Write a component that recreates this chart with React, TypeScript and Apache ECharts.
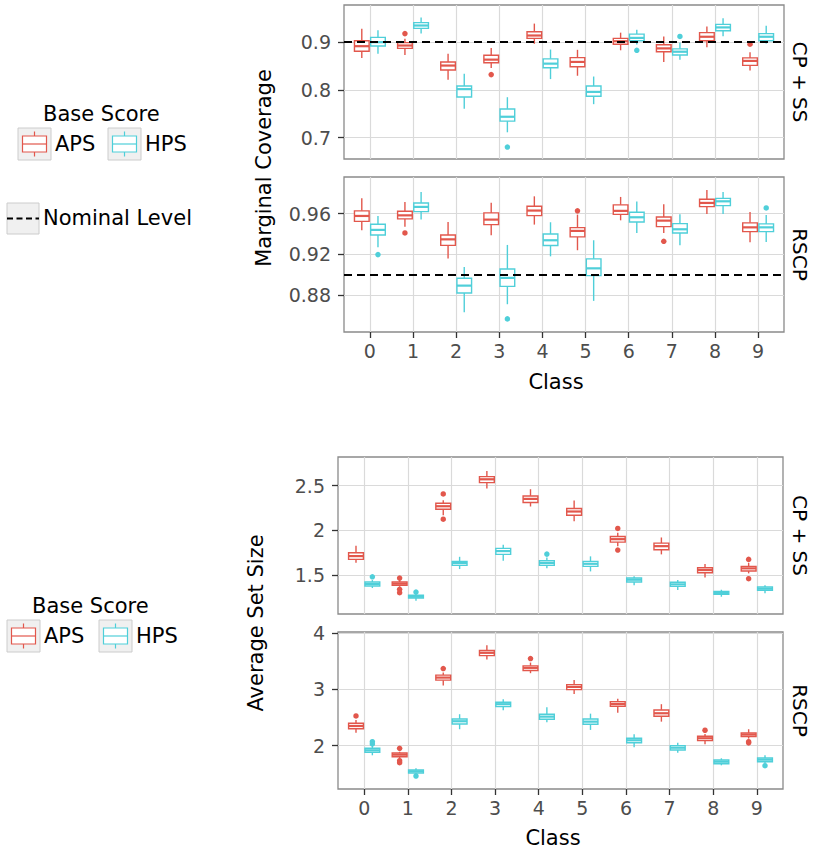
import React, { useEffect, useRef } from 'react';
import * as echarts from 'echarts';

// ---------- data ----------
const classes = [0, 1, 2, 3, 4, 5, 6, 7, 8, 9];
const scoreNames = ['APS', 'HPS'];
const facetNames = ['CP + SS', 'RSCP'];

// per class: [lower whisker, q1, median, q3, upper whisker]
const covCpAps = [
  [0.867, 0.881, 0.8916, 0.903, 0.928], [0.873, 0.887, 0.893, 0.899, 0.907],
  [0.821, 0.8416, 0.851, 0.8586, 0.876], [0.846, 0.857, 0.8634, 0.8725, 0.888],
  [0.8966, 0.908, 0.914, 0.922, 0.939], [0.8296, 0.8486, 0.8586, 0.8677, 0.884],
  [0.883, 0.8958, 0.902, 0.908, 0.92], [0.8586, 0.88, 0.887, 0.8945, 0.912],
  [0.8894, 0.903, 0.9114, 0.92, 0.933], [0.8408, 0.8514, 0.8607, 0.867, 0.879],
];
const covCpApsOut = [[1, 0.918], [3, 0.832], [9, 0.8958]];
const covCpHps = [
  [0.876, 0.892, 0.9, 0.91, 0.925], [0.918, 0.929, 0.935, 0.941, 0.952],
  [0.7605, 0.785, 0.8015, 0.808, 0.834], [0.711, 0.7345, 0.7436, 0.76, 0.7846],
  [0.8226, 0.8465, 0.855, 0.865, 0.8846], [0.77, 0.7867, 0.7958, 0.808, 0.828],
  [0.895, 0.903, 0.909, 0.917, 0.926], [0.8634, 0.873, 0.88, 0.886, 0.899],
  [0.9127, 0.924, 0.931, 0.9374, 0.95], [0.897, 0.903, 0.9114, 0.918, 0.9347],
];
const covCpHpsOut = [[3, 0.68], [6, 0.883], [7, 0.912]];

const covRsAps = [
  [0.9436, 0.9524, 0.9577, 0.9627, 0.975], [0.947, 0.9548, 0.9583, 0.9623, 0.9715],
  [0.9158, 0.9288, 0.9347, 0.939, 0.9518], [0.9387, 0.9492, 0.9541, 0.9607, 0.9708],
  [0.9492, 0.958, 0.963, 0.9672, 0.977], [0.924, 0.9371, 0.943, 0.9462, 0.959],
  [0.9534, 0.9593, 0.9627, 0.9686, 0.9764], [0.941, 0.9472, 0.9531, 0.9567, 0.9691],
  [0.9597, 0.9669, 0.9705, 0.9741, 0.9833], [0.9318, 0.9423, 0.9465, 0.9509, 0.9617],
];
const covRsApsOut = [[1, 0.941], [5, 0.9627], [7, 0.9328]];
const covRsHps = [
  [0.9269, 0.939, 0.944, 0.9495, 0.9577], [0.9541, 0.962, 0.9666, 0.9705, 0.9813],
  [0.863, 0.882, 0.8892, 0.8964, 0.9076], [0.8709, 0.8885, 0.8968, 0.9056, 0.9292],
  [0.918, 0.9286, 0.9338, 0.94, 0.9515], [0.8742, 0.899, 0.9062, 0.9155, 0.9338],
  [0.941, 0.9518, 0.9564, 0.9613, 0.9718], [0.9288, 0.941, 0.9446, 0.9502, 0.9593],
  [0.9597, 0.9679, 0.9721, 0.975, 0.9813], [0.9322, 0.9423, 0.9465, 0.9499, 0.9587],
];
const covRsHpsOut = [[0, 0.9197], [3, 0.8565], [9, 0.9656]];

const sizeCpAps = [
  [1.637, 1.675, 1.712, 1.749, 1.827], [1.37, 1.385, 1.403, 1.422, 1.444],
  [2.169, 2.236, 2.269, 2.303, 2.336], [2.466, 2.533, 2.57, 2.6, 2.663],
  [2.266, 2.31, 2.351, 2.384, 2.459], [2.102, 2.169, 2.21, 2.244, 2.333],
  [1.823, 1.868, 1.901, 1.931, 1.972], [1.731, 1.782, 1.823, 1.857, 1.92],
  [1.474, 1.526, 1.556, 1.581, 1.623], [1.519, 1.545, 1.575, 1.597, 1.637],
];
const sizeCpApsOut = [
  [1, 1.467], [1, 1.341], [1, 1.303], [2, 2.406], [2, 2.124],
  [6, 2.021], [6, 1.779], [9, 1.675], [9, 1.459],
];
const sizeCpHps = [
  [1.355, 1.377, 1.4, 1.422, 1.444], [1.214, 1.244, 1.258, 1.274, 1.288],
  [1.567, 1.608, 1.634, 1.653, 1.704], [1.66, 1.731, 1.768, 1.798, 1.838],
  [1.575, 1.608, 1.634, 1.66, 1.697], [1.541, 1.597, 1.626, 1.653, 1.709],
  [1.385, 1.422, 1.448, 1.467, 1.486], [1.333, 1.374, 1.396, 1.419, 1.444],
  [1.258, 1.285, 1.299, 1.318, 1.336], [1.296, 1.329, 1.347, 1.366, 1.385],
];
const sizeCpHpsOut = [[0, 1.481], [1, 1.31], [4, 1.734]];

const sizeRsAps = [
  [2.231, 2.302, 2.35, 2.399, 2.457], [1.769, 1.804, 1.84, 1.87, 1.893],
  [3.068, 3.164, 3.21, 3.253, 3.299], [3.53, 3.601, 3.65, 3.69, 3.786],
  [3.288, 3.335, 3.383, 3.418, 3.477], [2.92, 2.996, 3.044, 3.085, 3.169],
  [2.587, 2.701, 2.742, 2.783, 2.836], [2.427, 2.523, 2.576, 2.635, 2.737],
  [2.025, 2.089, 2.132, 2.167, 2.208], [2.125, 2.16, 2.196, 2.226, 2.292],
];
const sizeRsApsOut = [
  [0, 2.528], [1, 1.954], [1, 1.733], [1, 1.698], [2, 3.37],
  [4, 3.548], [8, 2.274], [9, 2.07], [9, 2.05],
];
const sizeRsHps = [
  [1.829, 1.883, 1.918, 1.954, 1.995], [1.49, 1.514, 1.544, 1.568, 1.598],
  [2.292, 2.386, 2.434, 2.475, 2.559], [2.63, 2.694, 2.737, 2.772, 2.826],
  [2.416, 2.47, 2.516, 2.559, 2.683], [2.28, 2.381, 2.427, 2.475, 2.569],
  [1.972, 2.053, 2.096, 2.132, 2.203], [1.875, 1.923, 1.964, 2.0, 2.053],
  [1.651, 1.68, 1.715, 1.746, 1.776], [1.687, 1.715, 1.751, 1.781, 1.829],
];
const sizeRsHpsOut = [[0, 2.071], [0, 2.03], [1, 1.461], [9, 1.644]];

const nominalLevel = 0.9;
const covTicksCp = [0.7, 0.8, 0.9];
const covTicksRs = [0.88, 0.92, 0.96];
const sizeTicksCp = [1.5, 2, 2.5];
const sizeTicksRs = [2, 3, 4];

// ---------- style / layout ----------
const RED = '#E2574C';
const CYAN = '#4FCFD9';
const FONT = 'DejaVu Sans';
const DODGE = 0.1875;
const BOX_W = 0.34;

const panels = [
  { aps: covCpAps, hps: covCpHps, apsOut: covCpApsOut, hpsOut: covCpHpsOut, ticks: covTicksCp, min: 0.655, max: 0.978, nominal: true, bottom: false, grid: { left: 344, top: 5, width: 440, height: 154 } },
  { aps: covRsAps, hps: covRsHps, apsOut: covRsApsOut, hpsOut: covRsHpsOut, ticks: covTicksRs, min: 0.8436, max: 0.996, nominal: true, bottom: true, grid: { left: 344, top: 177, width: 440, height: 155 } },
  { aps: sizeCpAps, hps: sizeCpHps, apsOut: sizeCpApsOut, hpsOut: sizeCpHpsOut, ticks: sizeTicksCp, min: 1.065, max: 2.819, nominal: false, bottom: false, grid: { left: 338, top: 457, width: 445, height: 157 } },
  { aps: sizeRsAps, hps: sizeRsHps, apsOut: sizeRsApsOut, hpsOut: sizeRsHpsOut, ticks: sizeTicksRs, min: 1.23, max: 4.02, nominal: false, bottom: true, grid: { left: 338, top: 632, width: 445, height: 157 } },
];

function makeRenderItem(offset: number, color: string) {
  return (params: any, api: any) => {
    const x = api.value(0) + offset;
    const lo = api.coord([x, api.value(1)]);
    const q1 = api.coord([x, api.value(2)]);
    const md = api.coord([x, api.value(3)]);
    const q3 = api.coord([x, api.value(4)]);
    const hi = api.coord([x, api.value(5)]);
    const hw = api.size([BOX_W, 0])[0] / 2;
    return {
      type: 'group',
      children: [
        { type: 'line', shape: { x1: lo[0], y1: lo[1], x2: q1[0], y2: q1[1] }, style: { stroke: color, lineWidth: 1.4 } },
        { type: 'line', shape: { x1: q3[0], y1: q3[1], x2: hi[0], y2: hi[1] }, style: { stroke: color, lineWidth: 1.4 } },
        { type: 'rect', shape: { x: q3[0] - hw, y: q3[1], width: hw * 2, height: q1[1] - q3[1] }, style: { fill: '#ffffff', stroke: color, lineWidth: 1.4 } },
        { type: 'line', shape: { x1: md[0] - hw, y1: md[1], x2: md[0] + hw, y2: md[1] }, style: { stroke: color, lineWidth: 2.2 } },
      ],
    };
  };
}

function legendGlyph(cx: number, top: number, color: string) {
  return [
    { type: 'rect', shape: { x: cx - 16.5, y: top, width: 33, height: 32 }, style: { fill: '#f0f0f0', stroke: '#cccccc', lineWidth: 1 } },
    { type: 'line', shape: { x1: cx, y1: top + 3.5, x2: cx, y2: top + 28.5 }, style: { stroke: color, lineWidth: 1.2 } },
    { type: 'rect', shape: { x: cx - 12, y: top + 8, width: 24, height: 16 }, style: { fill: '#ffffff', stroke: color, lineWidth: 1.2 } },
    { type: 'line', shape: { x1: cx - 12, y1: top + 16, x2: cx + 12, y2: top + 16 }, style: { stroke: color, lineWidth: 1.2 } },
  ];
}

function txt(text: string, x: number, y: number, size: number, align: string, rotation = 0, color = '#000') {
  return {
    type: 'text', x, y, rotation,
    style: { text, fill: color, font: `${size}px "${FONT}"`, fontFamily: FONT, fontSize: size, align, verticalAlign: 'middle', textAlign: align, textVerticalAlign: 'middle' },
  };
}

export default function App() {
  const ref = useRef<HTMLDivElement>(null);
  useEffect(() => {
    if (!ref.current) return;
    const chart = echarts.init(ref.current, undefined, { renderer: 'svg' });

    const grids: any[] = [];
    const xAxes: any[] = [];
    const yAxes: any[] = [];
    const series: any[] = [];

    panels.forEach((p, i) => {
      grids.push({ ...p.grid, show: true, borderColor: '#8a8a8a', borderWidth: 1.3, backgroundColor: '#ffffff', containLabel: false });
      xAxes.push({
        type: 'value', gridIndex: i, min: -0.6, max: 9.6, position: 'bottom',
        axisLine: { show: false, onZero: false },
        axisTick: { show: p.bottom, customValues: classes, length: 6, lineStyle: { color: '#333', width: 1.3 } },
        axisLabel: { show: p.bottom, customValues: classes, fontSize: 19, fontFamily: FONT, color: '#4d4d4d', margin: 9 },
        splitLine: { show: true, lineStyle: { color: '#dadada', width: 1.2 } },
      });
      yAxes.push({
        type: 'value', gridIndex: i, min: p.min, max: p.max, position: 'left',
        axisLine: { show: false, onZero: false },
        axisTick: { show: true, customValues: p.ticks, length: 6, lineStyle: { color: '#333', width: 1.3 } },
        axisLabel: { show: true, customValues: p.ticks, fontSize: 19, fontFamily: FONT, color: '#4d4d4d', margin: 13, formatter: (v: number) => String(+v.toFixed(3)) },
        splitLine: { show: true, lineStyle: { color: '#dadada', width: 1.2 } },
      });
      const groups = [
        { name: scoreNames[0], box: p.aps, out: p.apsOut, off: -DODGE, color: RED },
        { name: scoreNames[1], box: p.hps, out: p.hpsOut, off: DODGE, color: CYAN },
      ];
      groups.forEach((g, gi) => {
        series.push({
          type: 'custom', name: g.name, xAxisIndex: i, yAxisIndex: i, z: 2,
          renderItem: makeRenderItem(g.off, g.color),
          encode: { x: 0, y: [1, 2, 3, 4, 5] },
          data: g.box.map((b, c) => [classes[c], ...b]),
          markLine: p.nominal && gi === 1 ? {
            silent: true, symbol: 'none', z: 5,
            label: { show: false },
            lineStyle: { color: '#000', width: 2, type: [8, 5] },
            data: [{ yAxis: nominalLevel }],
          } : undefined,
        });
        series.push({
          type: 'scatter', name: g.name + ' outliers', xAxisIndex: i, yAxisIndex: i, z: 3,
          symbolSize: 5.5, itemStyle: { color: g.color, opacity: 1 },
          data: g.out.map((o) => [o[0] + g.off, o[1]]),
        });
      });
    });

    const graphics: any[] = [
      // axis titles
      txt('Marginal Coverage', 264, 168, 21, 'center', Math.PI / 2),
      txt('Average Set Size', 256, 623, 21, 'center', Math.PI / 2),
      txt('Class', 556, 382, 21, 'center'),
      txt('Class', 553, 838, 21, 'center'),
      // strip labels
      txt(facetNames[0], 800, 82, 20, 'center', -Math.PI / 2),
      txt(facetNames[1], 800, 254.5, 20, 'center', -Math.PI / 2),
      txt(facetNames[0], 800, 535.5, 20, 'center', -Math.PI / 2),
      txt(facetNames[1], 800, 710.5, 20, 'center', -Math.PI / 2),
      // top legend
      txt('Base Score', 43, 114, 21, 'left'),
      ...legendGlyph(34.5, 128, RED),
      txt(scoreNames[0], 55, 144, 21, 'left'),
      ...legendGlyph(124.5, 128, CYAN),
      txt(scoreNames[1], 145, 144, 21, 'left'),
      { type: 'rect', shape: { x: 7, y: 203, width: 32, height: 31 }, style: { fill: '#f0f0f0', stroke: '#cccccc', lineWidth: 1 } },
      { type: 'line', shape: { x1: 7, y1: 218.5, x2: 39, y2: 218.5 }, style: { stroke: '#000', lineWidth: 2, lineDash: [6, 3.5] } },
      txt('Nominal Level', 43, 218, 21, 'left'),
      // bottom legend
      txt('Base Score', 32, 606, 21, 'left'),
      ...legendGlyph(23.5, 620, RED),
      txt(scoreNames[0], 44, 636, 21, 'left'),
      ...legendGlyph(115.5, 620, CYAN),
      txt(scoreNames[1], 136, 636, 21, 'left'),
    ];

    chart.setOption({
      animation: false,
      backgroundColor: '#ffffff',
      textStyle: { fontFamily: FONT },
      grid: grids,
      xAxis: xAxes,
      yAxis: yAxes,
      series,
      graphic: graphics,
    });
    return () => chart.dispose();
  }, []);
  return <div ref={ref} style={{ position: 'absolute', left: 0, top: 0, width: 813, height: 849 }} />;
}
